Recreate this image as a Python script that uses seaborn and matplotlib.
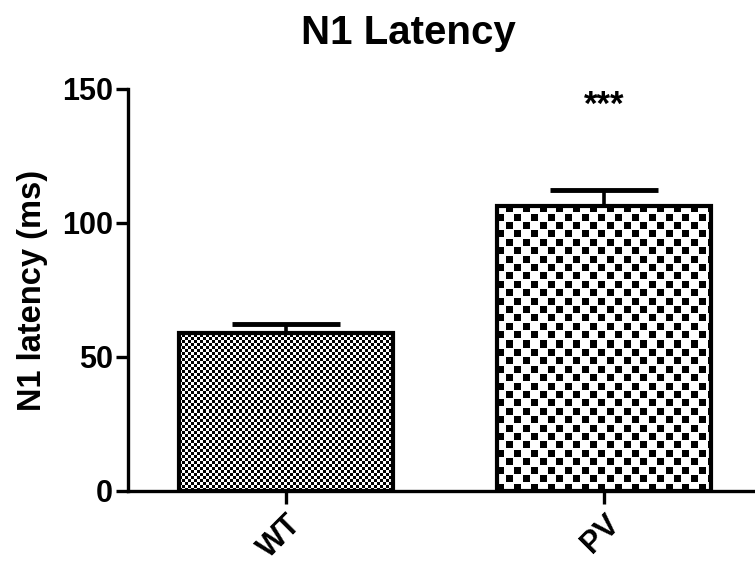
import numpy as np
import pandas as pd
import matplotlib
matplotlib.use("Agg")
import matplotlib.pyplot as plt
import seaborn as sns

# ---- data ----
groups = ["WT", "PV"]
means = [59.0, 106.5]
sems = [3.2, 6.0]
y_ticks = [0, 50, 100, 150]
title = "N1 Latency"
ylabel = "N1 latency (ms)"
sig_label = "***"
sig_y = 144.0

sns.set_theme(style="ticks")
plt.rcParams["font.family"] = ["Liberation Sans", "DejaVu Sans"]
plt.rcParams["font.weight"] = "bold"
plt.rcParams["axes.labelcolor"] = "black"
plt.rcParams["text.color"] = "black"

W_PX, H_PX = 755, 566
fig = plt.figure(figsize=(W_PX / 100, H_PX / 100), dpi=100)
ax = fig.add_axes([128 / W_PX, 75 / H_PX, 627 / W_PX, 402 / H_PX])

df = pd.DataFrame({"group": groups, "mean": means})
sns.barplot(data=df, x="group", y="mean", ax=ax, width=0.676, color="white",
            edgecolor="black", linewidth=3, errorbar=None, saturation=1)

ax.set_xlim(-0.497, 1.475)
ax.set_ylim(0, 150)

# error bars (upper only)
ax.errorbar(np.arange(len(groups)), means, yerr=[[0] * len(sems), sems],
            fmt="none", ecolor="black", elinewidth=2.6, capsize=39,
            capthick=3.5, zorder=0.5)

# checkered fills clipped to the bars
cells = [3.0, 8.4]
dots = [3.0, 7.0]
for p, cell, dot in zip(ax.patches, cells, dots):
    x0, w, h = p.get_x(), p.get_width(), p.get_height()
    (dx0, dy0), (dx1, dy1) = ax.transData.transform([[x0, 0], [x0 + w, h]])
    Wp, Hp = int(round(dx1 - dx0)), int(round(dy1 - dy0))
    jj, ii = np.meshgrid(np.arange(Wp), np.arange(Hp))
    cx = (jj // cell).astype(int)
    cy = (ii // cell).astype(int)
    inx = (jj % cell) < dot
    iny = (ii % cell) < dot
    black = ((cx + cy) % 2 == 0) & inx & iny
    img = np.where(black, 0.0, 1.0)
    im = ax.imshow(img, extent=(x0, x0 + w, 0, h), origin="lower",
                   interpolation="nearest", cmap="gray", vmin=0, vmax=1,
                   aspect="auto", zorder=0.9)
    im.set_clip_path(p)
    p.set_facecolor("none")
    p.set_zorder(1)

ax.set_xlim(-0.497, 1.475)
ax.set_ylim(0, 150)
ax.set_yticks(y_ticks)
ax.set_yticklabels([str(t) for t in y_ticks], fontsize=22, fontweight="bold")
ax.set_xticks(range(len(groups)))
ax.set_xticklabels(groups, fontsize=22, fontweight="bold", rotation=45,
                   ha="right", rotation_mode="anchor")
ax.set_xlabel("")
ax.set_ylabel(ylabel, fontsize=23.5, fontweight="bold", color="black")
ax.yaxis.set_label_coords(-0.127, 0.5)

sns.despine(ax=ax)
for s in ["left", "bottom"]:
    ax.spines[s].set_linewidth(2.4)
    ax.spines[s].set_color("black")
ax.tick_params(axis="both", width=2.4, length=9, color="black", labelcolor="black", pad=2)
ax.tick_params(axis="x", length=9, pad=4)
ax.set_facecolor("white")

ax.text(1, sig_y, sig_label, ha="center", va="center", fontsize=25,
        fontweight="bold", color="black")

fig.text(408 / W_PX, 1 - 44 / H_PX, title, ha="center", va="baseline",
         fontsize=29, fontweight="bold", color="black")

fig.savefig("out.png", dpi=100, facecolor="white")
